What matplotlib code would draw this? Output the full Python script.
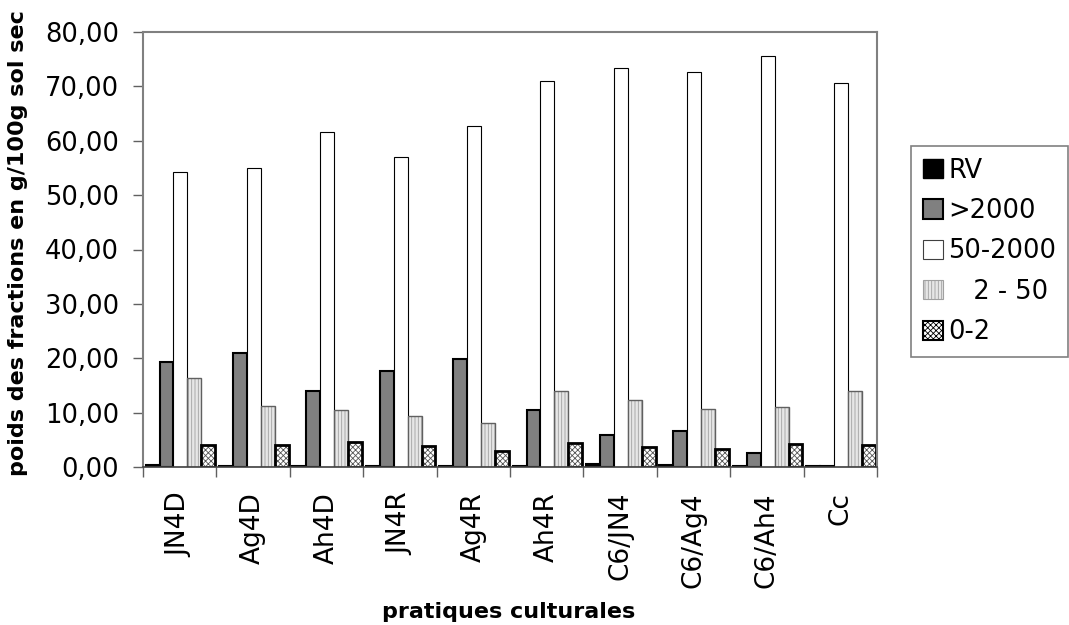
import matplotlib
matplotlib.use("Agg")
import matplotlib.pyplot as plt
import numpy as np
from matplotlib.patches import Patch

categories = ["JN4D", "Ag4D", "Ah4D", "JN4R", "Ag4R", "Ah4R", "C6/JN4", "C6/Ag4", "C6/Ah4", "Cc"]
series_names = ["RV", ">2000", "50-2000", "   2 - 50", "0-2"]
rv = [0.3, 0.2, 0.1, 0.1, 0.2, 0.1, 0.5, 0.3, 0.2, 0.1]
gt2000 = [19.3, 20.9, 13.9, 17.6, 19.8, 10.5, 5.8, 6.7, 2.5, 0.1]
s50_2000 = [54.2, 54.9, 61.7, 57.0, 62.8, 70.9, 73.4, 72.7, 75.6, 70.7]
s2_50 = [16.4, 11.3, 10.5, 9.4, 8.1, 14.0, 12.4, 10.7, 11.1, 14.0]
s0_2 = [4.1, 4.1, 4.6, 3.9, 3.0, 4.5, 3.6, 3.3, 4.2, 4.0]
yticks = [0, 10, 20, 30, 40, 50, 60, 70, 80]

plt.rcParams['font.family'] = ['DejaVu Sans']
plt.rcParams['hatch.linewidth'] = 0.6

fig = plt.figure(figsize=(10.69, 6.25), dpi=100)
ax = fig.add_axes([143/1069, 1-467/625, (877-143)/1069, (467-32)/625])

n = len(categories)
x = np.arange(n)
w = 0.19
offs = [-2*w, -w, 0, w, 2*w]
offs = [o + 0.01 for o in offs]

ax.bar(x+offs[0], rv, w, color='black', edgecolor='black', linewidth=1.5)
ax.bar(x+offs[1], gt2000, w, color='#808080', edgecolor='black', linewidth=1.5)
ax.bar(x+offs[2], s50_2000, w, color='white', edgecolor='black', linewidth=0.8)
ax.bar(x+offs[3], s2_50, w, color='#e6e6e6', edgecolor='#a0a0a0', hatch='|||||', linewidth=0)
ax.bar(x+offs[3], s2_50, w, fill=False, edgecolor='#606060', linewidth=1.0)
ax.bar(x+offs[4], s0_2, w, color='white', edgecolor='#555555', hatch='xxxxxx', linewidth=0)
ax.bar(x+offs[4], s0_2, w, fill=False, edgecolor='black', linewidth=2.0)

ax.set_xlim(-0.5, n-0.5)
ax.set_ylim(0, 80)
ax.set_yticks(yticks)
ax.set_yticklabels([f"{v:.2f}".replace('.', ',') for v in yticks], fontsize=18.5)
ax.set_xticks(x)
ax.set_xticklabels(categories, rotation=90, fontsize=19)
ax.tick_params(axis='x', length=0, pad=18)
ax.set_xticks(np.arange(n+1)-0.5, minor=True)
ax.tick_params(axis='x', which='minor', length=7.2, color='#606060', width=1)
ax.tick_params(axis='y', length=7.2, color='#606060', width=1, pad=10)

for s in ['top', 'right', 'left']:
    ax.spines[s].set_color('#808080')
    ax.spines[s].set_linewidth(1.5)
ax.spines['bottom'].set_color('#404040')
ax.spines['bottom'].set_linewidth(1.2)

fig.text(509/1069, 1-612/625, "pratiques culturales", fontsize=16, fontweight='bold',
         ha='center', va='center')
fig.text(18/1069, 1-243/625, "poids des fractions en g/100g sol sec", rotation=90,
         fontsize=16, fontweight='bold', ha='center', va='center')

handles = [
    Patch(facecolor='black', edgecolor='black'),
    Patch(facecolor='#808080', edgecolor='black', linewidth=1.5),
    Patch(facecolor='white', edgecolor='#404040', linewidth=0.8),
    Patch(facecolor='#e6e6e6', edgecolor='#a0a0a0', hatch='|||||', linewidth=0.8),
    Patch(facecolor='white', edgecolor='black', hatch='xxxxxx', linewidth=1.5),
]
leg = fig.legend(handles, series_names, loc='upper left', bbox_to_anchor=(911/1069, 1-146/625),
                 fontsize=18.5, frameon=True, fancybox=False, handlelength=0.78, handleheight=0.78,
                 handletextpad=0.23, labelspacing=0.56, borderpad=0.45, borderaxespad=0)
leg.get_frame().set_edgecolor('#606060')
leg.get_frame().set_linewidth(1.2)

fig.savefig("out.png", dpi=100)
